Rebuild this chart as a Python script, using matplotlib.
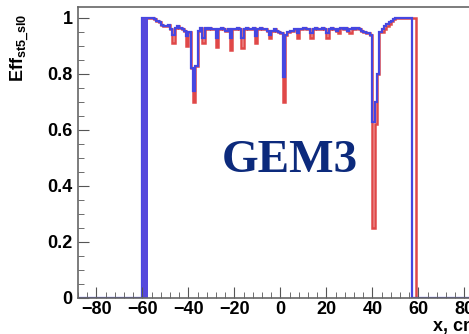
import matplotlib
matplotlib.use("Agg")
import matplotlib.pyplot as plt
import numpy as np

# efficiency per 1 cm bin, bin left edges from -60 to 58
bin_lo = -60
blue_eff = [
    1.0, 1.0, 1.0, 1.0, 1.0, 0.995, 0.99, 0.985, 0.975, 0.97,          # -60..-51
    0.97, 0.975, 0.96, 0.94, 0.965, 0.97, 0.965, 0.96, 0.955, 0.935,    # -50..-41
    0.95, 0.82, 0.74, 0.83, 0.955, 0.965, 0.93, 0.965, 0.96, 0.965,     # -40..-31
    0.96, 0.96, 0.93, 0.96, 0.965, 0.96, 0.955, 0.96, 0.93, 0.96,       # -30..-21
    0.96, 0.965, 0.96, 0.93, 0.96, 0.965, 0.96, 0.96, 0.965, 0.935,     # -20..-11
    0.96, 0.965, 0.96, 0.96, 0.955, 0.94, 0.955, 0.96, 0.955, 0.95,     # -10..-1
    0.945, 0.79, 0.94, 0.95, 0.955, 0.955, 0.96, 0.945, 0.96, 0.96,     # 0..9
    0.965, 0.96, 0.96, 0.945, 0.96, 0.965, 0.96, 0.96, 0.965, 0.96,     # 10..19
    0.945, 0.96, 0.965, 0.96, 0.955, 0.96, 0.965, 0.96, 0.965, 0.955,   # 20..29
    0.96, 0.965, 0.96, 0.965, 0.96, 0.955, 0.95, 0.945, 0.945, 0.94,    # 30..39
    0.63, 0.70, 0.80, 0.95, 0.96, 0.97, 0.98, 0.985, 0.99, 0.995,       # 40..49
    1.0, 1.0, 1.0, 1.0, 1.0, 1.0, 1.0, 0.0, 0.0,                        # 50..58
]
red_eff = [
    1.0, 1.0, 1.0, 1.0, 1.0, 0.995, 0.99, 0.985, 0.975, 0.97,
    0.97, 0.975, 0.96, 0.91, 0.965, 0.97, 0.965, 0.96, 0.955, 0.90,
    0.95, 0.82, 0.70, 0.83, 0.955, 0.965, 0.91, 0.965, 0.96, 0.965,
    0.96, 0.96, 0.895, 0.96, 0.965, 0.96, 0.955, 0.96, 0.886, 0.96,
    0.96, 0.965, 0.96, 0.893, 0.96, 0.965, 0.96, 0.96, 0.965, 0.91,
    0.96, 0.965, 0.96, 0.96, 0.955, 0.93, 0.955, 0.96, 0.955, 0.95,
    0.945, 0.70, 0.94, 0.95, 0.955, 0.955, 0.96, 0.93, 0.96, 0.96,
    0.965, 0.96, 0.96, 0.93, 0.96, 0.965, 0.96, 0.96, 0.965, 0.96,
    0.93, 0.96, 0.965, 0.96, 0.955, 0.945, 0.965, 0.96, 0.965, 0.955,
    0.945, 0.965, 0.96, 0.965, 0.96, 0.955, 0.95, 0.945, 0.945, 0.94,
    0.25, 0.62, 0.80, 0.95, 0.95, 0.96, 0.97, 0.98, 0.99, 0.995,
    1.0, 1.0, 1.0, 1.0, 1.0, 1.0, 1.0, 1.0, 1.0,
]
# thick blue edge at the left border of the chamber
edge_band = (-60, -57.5)

x_ticks = [-80, -60, -40, -20, 0, 20, 40, 60, 80]
y_ticks = [0, 0.2, 0.4, 0.6, 0.8, 1]
y_tick_labels = ["0", "0.2", "0.4", "0.6", "0.8", "1"]

plt.rcParams["mathtext.fontset"] = "custom"
plt.rcParams["mathtext.bf"] = "Liberation Sans:bold"
plt.rcParams["mathtext.rm"] = "Liberation Sans:bold"

n = len(blue_eff)
edges = np.concatenate([[-90], np.arange(bin_lo, bin_lo + n + 1), [90]])
blue = np.concatenate([[0], blue_eff, [0]])
red = np.concatenate([[0], red_eff, [0]])

fig = plt.figure(figsize=(4.69, 3.34), dpi=100)
ax = fig.add_axes([78 / 469, 36 / 334, 404.8 / 469, 291 / 334])

ax.stairs(red, edges, color="#e04848", lw=1.8, baseline=None)
ax.stairs(blue, edges, color="#4646e0", lw=1.6, baseline=None)
ax.fill_between(edge_band, 0, 1.0, color="#5548dc", lw=0)

ax.text(4, 0.49, "GEM3", family="Liberation Serif", fontweight="bold",
        fontsize=34, color="#0c2a7c", ha="center", va="center")

ax.set_xlim(-88, 88)
ax.set_ylim(0, 1.039)
ax.set_xticks(x_ticks)
ax.set_xticklabels([str(v).replace("-", "\u2212") for v in x_ticks])
ax.set_yticks(y_ticks)
ax.set_yticklabels(y_tick_labels)
ax.set_xticks(np.arange(-88, 89, 4), minor=True)
ax.set_yticks(np.arange(0, 1.04, 0.05), minor=True)
ax.tick_params(which="both", direction="in", color="#555555")
ax.tick_params(which="major", length=8)
ax.tick_params(which="minor", length=4)
ax.tick_params(axis="x", pad=2)
ax.tick_params(axis="y", pad=4)
for lab in ax.get_xticklabels() + ax.get_yticklabels():
    lab.set_family("Liberation Sans")
    lab.set_fontweight("bold")
    lab.set_fontsize(13)
for s in ax.spines.values():
    s.set_color("#666666")
    s.set_linewidth(1.2)

fig.text(20 / 469, 1 - 14 / 334, r"$\mathbf{Eff}_{\mathbf{st5\_sl0}}$",
         rotation=90, ha="center", va="top", fontsize=13)
fig.text(433 / 469, 1 - 318 / 334, "x, cm", family="Liberation Sans",
         fontweight="bold", fontsize=13, ha="left", va="top")

fig.savefig("out.png", dpi=100)
